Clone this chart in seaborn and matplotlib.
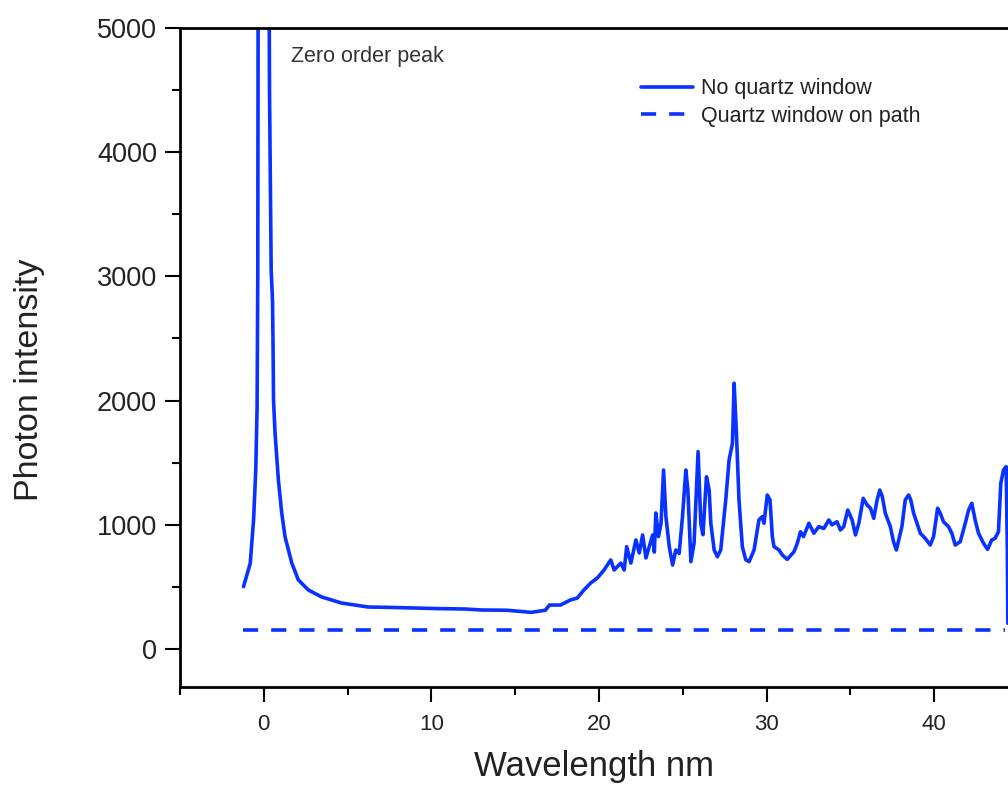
import pandas as pd
import matplotlib
matplotlib.use("Agg")
import matplotlib.pyplot as plt
import seaborn as sns

# Espectro (nm, cuentas)
longitud_onda = [-1.21, -0.81, -0.61, -0.48, -0.40, -0.36, -0.33, 0.0, 0.30, 0.34,
                 0.44, 0.52, 0.55, 0.58, 0.67, 0.87, 1.07, 1.27, 1.67, 2.06,
                 2.66, 3.45, 4.64, 6.23, 7.5, 9.0, 10.5, 12.0, 13.0, 14.5,
                 15.95, 16.8, 17.04, 17.7, 18.3, 18.7, 19.1, 19.5, 19.9, 20.3,
                 20.7, 20.9, 21.3, 21.5, 21.65, 21.9, 22.2, 22.4, 22.6, 22.8,
                 23.0, 23.2, 23.3, 23.39, 23.55, 23.7, 23.85, 23.99, 24.19, 24.39,
                 24.58, 24.78, 24.98, 25.18, 25.3, 25.48, 25.67, 25.91, 26.07, 26.2,
                 26.41, 26.57, 26.67, 26.87, 27.06, 27.26, 27.56, 27.76, 27.96, 28.06,
                 28.19, 28.35, 28.55, 28.75, 28.95, 29.25, 29.54, 29.74, 29.84, 30.04,
                 30.2, 30.34, 30.44, 30.74, 30.94, 31.23, 31.63, 31.83, 32.02, 32.2,
                 32.52, 32.82, 33.11, 33.41, 33.71, 33.9, 34.2, 34.4, 34.6, 34.84,
                 35.1, 35.3, 35.5, 35.76, 35.99, 36.2, 36.39, 36.59, 36.75, 36.9,
                 37.08, 37.38, 37.57, 37.74, 37.88, 38.07, 38.27, 38.47, 38.6, 38.77,
                 38.97, 39.17, 39.46, 39.76, 39.96, 40.2, 40.36, 40.55, 40.85, 41.05,
                 41.25, 41.55, 41.85, 42.05, 42.24, 42.44, 42.64, 42.94, 43.18, 43.43,
                 43.63, 43.83, 43.97, 44.13, 44.29, 44.36, 44.39]
sin_cuarzo = [502, 690, 1039, 1441, 1950, 3000, 6000, 20000, 6000, 4500,
              3050, 2800, 2460, 2005, 1739, 1361, 1095, 902, 692, 556,
              475, 419, 370, 338, 335, 330, 325, 322, 314, 312,
              295, 312, 354, 354, 395, 410, 475, 531, 572, 636,
              717, 636, 692, 636, 824, 692, 878, 773, 918, 733,
              824, 918, 780, 1095, 905, 1014, 1441, 1066, 824, 676,
              797, 770, 1066, 1441, 1280, 703, 851, 1589, 1012, 920,
              1387, 1280, 1012, 797, 743, 797, 1200, 1522, 1656, 2140,
              1763, 1200, 824, 720, 703, 797, 1039, 1066, 1012, 1240,
              1200, 905, 824, 797, 756, 722, 783, 851, 944, 905,
              1012, 932, 985, 970, 1039, 1000, 1025, 958, 985, 1119,
              1039, 918, 1012, 1213, 1160, 1133, 1052, 1200, 1280, 1227,
              1093, 985, 864, 797, 878, 985, 1200, 1240, 1200, 1093,
              1012, 932, 891, 837, 905, 1133, 1093, 1025, 985, 932,
              837, 864, 1012, 1119, 1173, 1039, 932, 851, 802, 878,
              891, 944, 1334, 1441, 1468, 797, 207]

# Con ventana de cuarzo: fondo plano
longitud_cuarzo = [-1.25, 44.25]
con_cuarzo = [150, 150]

etiquetas = ["No quartz window", "Quartz window on path"]

df1 = pd.DataFrame({"nm": longitud_onda, "intensidad": sin_cuarzo})
df2 = pd.DataFrame({"nm": longitud_cuarzo, "intensidad": con_cuarzo})

sns.set_style("ticks")
plt.rcParams["font.family"] = ["Liberation Sans", "DejaVu Sans"]

azul = "#0a32ff"
fig = plt.figure(figsize=(10.08, 7.91), dpi=100)
ax = fig.add_axes([180 / 1008, 1 - 687 / 791, 1 - 180 / 1008, (687 - 28) / 791])

sns.lineplot(x="nm", y="intensidad", data=df1, ax=ax, color=azul, linewidth=2.6,
             estimator=None, sort=False, label=etiquetas[0])
sns.lineplot(x="nm", y="intensidad", data=df2, ax=ax, color=azul, linewidth=2.6,
             linestyle=(0, (4.2, 3.6)), estimator=None, sort=False, label=etiquetas[1])

ax.set_xlim(-4.88, 44.4)
ax.set_ylim(-306, 5000)
ax.set_xticks([0, 10, 20, 30, 40])
ax.set_xticks([-5, 5, 15, 25, 35], minor=True)
ax.set_yticks([0, 1000, 2000, 3000, 4000, 5000])
ax.set_yticks([500, 1500, 2500, 3500, 4500], minor=True)

for s in ["left", "bottom", "top"]:
    ax.spines[s].set_linewidth(2)
    ax.spines[s].set_color("black")
ax.spines["right"].set_visible(False)

ax.tick_params(which="major", direction="out", length=10.5, width=1.5, color="black")
ax.tick_params(which="minor", direction="out", length=5.5, width=1.5, color="black")
ax.tick_params(axis="y", labelsize=19.5, pad=6, labelcolor="#222222")
ax.tick_params(axis="x", labelsize=16, pad=9, labelcolor="#222222")

ax.set_xlabel("Wavelength nm", fontsize=25, color="#222222")
ax.set_ylabel("Photon intensity", fontsize=24.5, color="#222222")
ax.xaxis.set_label_coords(0.5, -0.095)
ax.yaxis.set_label_coords(-0.163, 0.466)

ax.text(1.65, 4730, "Zero order peak", fontsize=15.5, color="#333333", va="baseline")

ax.legend(loc="upper left", bbox_to_anchor=(0.557, 0.924), frameon=False,
          fontsize=15.5, handlelength=2.4, handletextpad=0.4, labelspacing=0.3,
          borderpad=0, borderaxespad=0, labelcolor="#222222")

plt.savefig("out.png", dpi=100)
